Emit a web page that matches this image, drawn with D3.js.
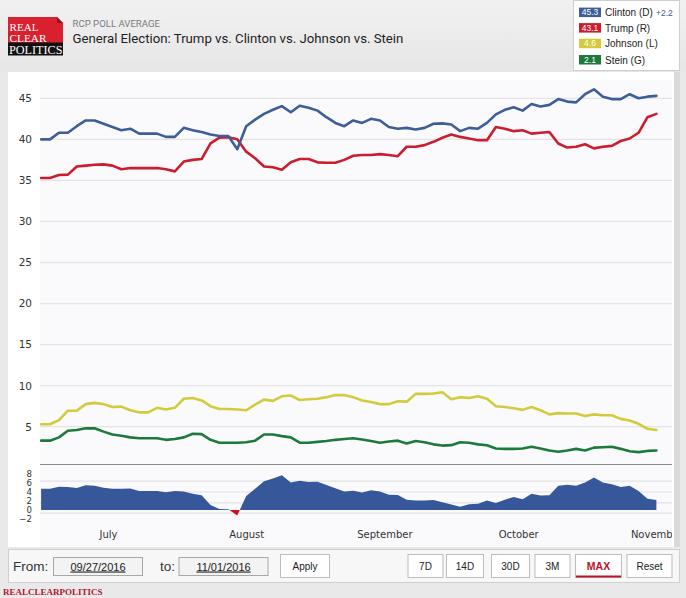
<!DOCTYPE html>
<html><head><meta charset="utf-8">
<script src="https://cdn.jsdelivr.net/npm/d3@7/dist/d3.min.js"></script>
<style>body{margin:0;background:#e9e9e9;overflow:hidden}svg{display:block}</style>
</head><body>
<svg id="c" width="686" height="598"></svg>
<script>
// ---------- DATA ----------
const dates = [
 "2016-06-16","2016-06-18","2016-06-20","2016-06-22","2016-06-24","2016-06-26","2016-06-28","2016-06-30",
 "2016-07-02","2016-07-04","2016-07-06","2016-07-08","2016-07-10","2016-07-12","2016-07-14","2016-07-16",
 "2016-07-18","2016-07-20","2016-07-22","2016-07-24","2016-07-26","2016-07-28","2016-07-30",
 "2016-08-01","2016-08-03","2016-08-05","2016-08-07","2016-08-09","2016-08-11","2016-08-13","2016-08-15",
 "2016-08-17","2016-08-19","2016-08-21","2016-08-23","2016-08-25","2016-08-27","2016-08-29","2016-08-31",
 "2016-09-02","2016-09-04","2016-09-06","2016-09-08","2016-09-10","2016-09-12","2016-09-14","2016-09-16",
 "2016-09-18","2016-09-20","2016-09-22","2016-09-24","2016-09-26","2016-09-28","2016-09-30",
 "2016-10-02","2016-10-04","2016-10-06","2016-10-08","2016-10-10","2016-10-12","2016-10-14","2016-10-16",
 "2016-10-18","2016-10-20","2016-10-22","2016-10-24","2016-10-26","2016-10-28","2016-10-30","2016-11-01"];
const clinton = [
 40.0,40.0,40.8,40.8,41.6,42.3,42.3,41.9,
 41.5,41.1,41.3,40.7,40.7,40.7,40.3,40.3,
 41.4,41.1,40.9,40.6,40.4,40.4,38.8,
 41.6,42.4,43.1,43.6,44.05,43.3,44.1,43.85,
 43.5,42.7,42.0,41.6,42.3,42.0,42.5,42.3,
 41.5,41.3,41.4,41.2,41.4,41.9,41.95,41.8,
 41.0,41.4,41.3,42.0,43.05,43.6,43.9,
 43.5,44.3,44.0,44.2,44.9,44.6,44.5,45.5,
 46.1,45.2,44.9,44.9,45.5,45.0,45.2,45.3];
const trump = [
 35.3,35.3,35.65,35.7,36.7,36.8,36.9,36.95,
 36.8,36.35,36.5,36.5,36.5,36.5,36.35,36.1,
 37.3,37.5,37.6,39.5,40.2,40.25,40.0,
 38.5,37.7,36.7,36.6,36.3,37.2,37.6,37.6,
 37.2,37.15,37.15,37.5,38.0,38.1,38.1,38.2,
 38.1,37.95,39.1,39.1,39.3,39.7,40.2,40.6,
 40.3,40.1,39.9,39.9,41.5,41.3,41.0,
 41.1,40.7,40.8,40.9,39.5,39.0,39.1,39.4,
 38.9,39.1,39.2,39.8,40.1,40.8,42.7,43.1];
const johnson = [
 5.3,5.3,5.8,6.95,6.95,7.75,7.9,7.75,
 7.4,7.45,7.0,6.75,6.75,7.3,7.1,7.3,
 8.4,8.5,8.2,7.5,7.15,7.15,7.1,
 7.0,7.7,8.3,8.15,8.7,8.8,8.25,8.35,
 8.4,8.6,8.85,8.85,8.6,8.2,8.0,7.75,
 7.75,8.1,8.05,9.0,9.0,9.05,9.2,8.35,
 8.6,8.5,8.7,8.4,7.5,7.4,7.25,
 7.05,7.4,7.0,6.5,6.65,6.6,6.6,6.3,
 6.5,6.4,6.4,5.95,5.75,5.35,4.75,4.6];
const stein = [
 3.3,3.3,3.7,4.5,4.6,4.8,4.8,4.4,
 4.05,3.9,3.7,3.6,3.6,3.6,3.4,3.5,
 3.7,4.15,4.1,3.4,3.05,3.05,3.05,
 3.1,3.3,4.05,4.05,3.85,3.7,3.05,3.05,
 3.15,3.25,3.4,3.5,3.6,3.45,3.25,3.05,
 3.2,3.3,2.95,3.25,3.1,2.85,2.7,2.75,
 3.1,3.05,2.85,2.75,2.35,2.3,2.3,
 2.35,2.55,2.35,2.1,1.95,2.1,2.3,2.1,
 2.45,2.5,2.55,2.3,2.0,1.9,2.05,2.1];
const seriesNames = ["Clinton (D)","Trump (R)","Johnson (L)","Stein (G)"];
const seriesLatest = ["45.3","43.1","4.6","2.1"];
const leadChange = "+2.2";
const yTicks = [5,10,15,20,25,30,35,40,45];
const spreadTicks = [8,6,4,2,0,-2];
const spreadGrid = [6.4,4,1.6,-0.7];
const monthTicks = ["2016-07-01","2016-08-01","2016-09-01","2016-10-01","2016-11-01"];
const monthLabels = ["July","August","September","October","November"];
const fromDate = "09/27/2016", toDate = "11/01/2016";
const rangeButtons = ["7D","14D","30D","3M","MAX","Reset"];

// ---------- SETUP ----------
const colors = ["#3d5e98","#cc1d2e","#d3ca3c","#1e7a3c"];
const svg = d3.select("#c");
const parse = d3.timeParse("%Y-%m-%d");
const D = dates.map(parse);
const PL = 40, PR = 672, PT = 80, PB = 464, LB = 546;

const x = d3.scaleTime().domain([new Date(2016,5,16), new Date(2016,10,4,12)]).range([41.1, 672]);
const y = d3.scaleLinear().domain([0,45]).range([467.75, 98.3]);
const ys = d3.scaleLinear().domain([0,8]).range([510, 474]);

const defs = svg.append("defs");
const hg = defs.append("linearGradient").attr("id","hg").attr("x1",0).attr("y1",0).attr("x2",0).attr("y2",1);
hg.append("stop").attr("offset","0").attr("stop-color","#f1f1f1");
hg.append("stop").attr("offset","1").attr("stop-color","#e6e6e6");
defs.append("clipPath").attr("id","cpMain").append("rect").attr("x",PL).attr("y",PT).attr("width",PR-PL).attr("height",PB-PT);
defs.append("clipPath").attr("id","cpPos").append("rect").attr("x",PL).attr("y",PB).attr("width",PR-PL).attr("height",ys(0)-PB);
defs.append("clipPath").attr("id","cpNeg").append("rect").attr("x",PL).attr("y",ys(0)).attr("width",PR-PL).attr("height",LB-ys(0));
defs.append("clipPath").attr("id","cpAx").append("rect").attr("x",PL).attr("y",PB).attr("width",PR-PL).attr("height",LB-PB);

// background
svg.append("rect").attr("width",686).attr("height",598).attr("fill","#e9e9e9");
svg.append("rect").attr("width",686).attr("height",72).attr("fill","url(#hg)");

// ---------- HEADER ----------
const logo = svg.append("g");
logo.append("path").attr("d","M8,17 H57 L63,23 V43 H8 Z").attr("fill","#d8202e");
logo.append("path").attr("d","M57,17 L63,23 H57 Z").attr("fill","#a0101c");
logo.append("rect").attr("x",8).attr("y",42.5).attr("width",55).attr("height",13).attr("fill","#111");
const lf = "'Liberation Serif','DejaVu Serif',serif";
logo.append("text").attr("x",9.5).attr("y",30.5).text("REAL").attr("font-family",lf).attr("font-size",11).attr("fill","#fff").attr("textLength",29).attr("lengthAdjust","spacingAndGlyphs");
logo.append("text").attr("x",9.5).attr("y",41.5).text("CLEAR").attr("font-family",lf).attr("font-size",11).attr("fill","#fff").attr("textLength",37).attr("lengthAdjust","spacingAndGlyphs");
logo.append("text").attr("x",9).attr("y",54.3).text("POLITICS").attr("font-family",lf).attr("font-size",12).attr("fill","#fff").attr("textLength",53.5).attr("lengthAdjust","spacingAndGlyphs");

svg.append("text").attr("x",72.5).attr("y",26.7).text("RCP POLL AVERAGE")
  .attr("font-family","Roboto,'Liberation Sans',sans-serif").attr("font-size",9.6).attr("fill","#7a7a7a");
svg.append("text").attr("x",72.5).attr("y",42.6).text("General Election: Trump vs. Clinton vs. Johnson vs. Stein")
  .attr("font-family","Roboto,'Liberation Sans',sans-serif").attr("font-size",13.2).attr("fill","#222");

// ---------- LEGEND ----------
svg.append("rect").attr("x",573.5).attr("y",0.5).attr("width",106).attr("height",70).attr("fill","#fff").attr("stroke","#cfcfcf");
const legY = [12.2, 27.7, 43.3, 59.6];
seriesNames.forEach((n,i)=>{
  const g = svg.append("g");
  g.append("rect").attr("x",579).attr("y",legY[i]-4.6).attr("width",22).attr("height",9.5).attr("fill",colors[i]);
  g.append("text").attr("x",590).attr("y",legY[i]+3).attr("text-anchor","middle").text(seriesLatest[i])
    .attr("font-family","'Liberation Sans',Arial,sans-serif").attr("font-size",8.5).attr("fill","#fff");
  g.append("text").attr("x",605).attr("y",legY[i]+4).text(n)
    .attr("font-family","'Liberation Sans',Arial,sans-serif").attr("font-size",10).attr("fill","#222");
});
svg.append("text").attr("x",656).attr("y",legY[0]+3.5).text(leadChange)
  .attr("font-family","'Liberation Sans',Arial,sans-serif").attr("font-size",8.5).attr("fill","#3d5e98");

// ---------- CHART PANEL ----------
svg.append("rect").attr("x",8).attr("y",72).attr("width",666).attr("height",475).attr("fill","#fff");
svg.append("rect").attr("x",674).attr("y",72).attr("width",6).attr("height",475).attr("fill","#dadada");
svg.append("rect").attr("x",PL).attr("y",PT).attr("width",PR-PL).attr("height",LB-PT).attr("fill","#fafafc");

const tf = "'DejaVu Sans',Verdana,sans-serif";
// main grid
const gGrid = svg.append("g");
yTicks.forEach(v=>{
  gGrid.append("line").attr("x1",PL).attr("x2",PR).attr("y1",y(v)).attr("y2",y(v)).attr("stroke","#e4e4e4").attr("stroke-width",1.3);
});
// y axis labels via d3 axis
const yAx = svg.append("g").attr("transform",`translate(${PL},0)`)
  .call(d3.axisLeft(y).tickValues(yTicks).tickSize(0).tickPadding(8));
yAx.select(".domain").remove();
yAx.selectAll("text").attr("font-family",tf).attr("font-size",10.5).attr("fill","#333");

// lines
const line = d3.line().x((d,i)=>x(D[i])).y(d=>y(d));
const gLines = svg.append("g").attr("clip-path","url(#cpMain)");
[stein, johnson, trump, clinton].forEach((s,k)=>{
  const ci = [3,2,1,0][k];
  gLines.append("path").datum(s).attr("d",line).attr("fill","none").attr("stroke",colors[ci])
    .attr("stroke-width",2.6).attr("stroke-linejoin","round").attr("stroke-linecap","round");
});

// ---------- SPREAD PANEL ----------
spreadGrid.forEach(v=>{
  svg.append("line").attr("x1",PL).attr("x2",PR).attr("y1",ys(v)).attr("y2",ys(v)).attr("stroke","#e2e2e2").attr("stroke-width",1.2);
});
const spread = clinton.map((c,i)=>c - trump[i]);
const area = d3.area().x((d,i)=>x(D[i])).y0(ys(0)).y1(d=>ys(d));
svg.append("path").datum(spread).attr("d",area).attr("fill","#36589a").attr("clip-path","url(#cpPos)");
svg.append("path").datum(spread).attr("d",area).attr("fill","#d0101e").attr("clip-path","url(#cpNeg)");
svg.append("line").attr("x1",PL).attr("x2",PR).attr("y1",PB+0.5).attr("y2",PB+0.5).attr("stroke","#8a8a8a").attr("stroke-width",1);

const sAx = svg.append("g").attr("transform",`translate(${PL},0)`)
  .call(d3.axisLeft(ys).tickValues(spreadTicks).tickSize(0).tickPadding(8).tickFormat(d3.format("d")));
sAx.select(".domain").remove();
sAx.selectAll("text").attr("font-family",tf).attr("font-size",8.6).attr("fill","#333");

// month axis
const xAxWrap = svg.append("g").attr("clip-path","url(#cpAx)");
const xAx = xAxWrap.append("g").attr("transform",`translate(0,${526})`)
  .call(d3.axisBottom(x).tickValues(monthTicks.map(parse)).tickSize(0).tickPadding(8)
    .tickFormat((d,i)=>monthLabels[i]));
xAx.select(".domain").remove();
xAx.selectAll("text").attr("font-family",tf).attr("font-size",10).attr("fill","#333").attr("dy","0.35em");

// ---------- CONTROLS ----------
svg.append("rect").attr("x",8.5).attr("y",549.5).attr("width",671).attr("height",33).attr("fill","#f7f7f7").attr("stroke","#cfcfcf");
const cf = "'Liberation Sans',Arial,sans-serif";
svg.append("text").attr("x",13).attr("y",571).text("From:").attr("font-family",cf).attr("font-size",13.5).attr("fill","#333");
svg.append("text").attr("x",160).attr("y",571).text("to:").attr("font-family",cf).attr("font-size",13.5).attr("fill","#333");
[[53,fromDate],[178.5,toDate]].forEach(([bx,t])=>{
  svg.append("rect").attr("x",bx+0.5).attr("y",557.5).attr("width",89).attr("height",18).attr("fill","#f3f3f3").attr("stroke","#a8a8a8");
  svg.append("text").attr("x",bx+45).attr("y",570.5).attr("text-anchor","middle").text(t)
    .attr("font-family",cf).attr("font-size",11).attr("fill","#222").attr("text-decoration","underline");
});
const btn = (bx,w,t,red)=>{
  svg.append("rect").attr("x",bx+0.5).attr("y",554.5).attr("width",w).attr("height",23).attr("fill","#fff").attr("stroke","#bdbdbd");
  if(red) svg.append("line").attr("x1",bx+1).attr("x2",bx+w).attr("y1",576.5).attr("y2",576.5).attr("stroke","#c0102a").attr("stroke-width",2);
  svg.append("text").attr("x",bx+w/2+0.5).attr("y",570).attr("text-anchor","middle").text(t)
    .attr("font-family",cf).attr("font-size",red?10.5:10).attr("font-weight",red?"bold":"normal").attr("fill",red?"#c0102a":"#222");
};
btn(280,49,"Apply",false);
const bxs = [[407.5,35],[446,37],[491,38],[534.5,35],[575,46],[626.5,45]];
rangeButtons.forEach((t,i)=>btn(bxs[i][0],bxs[i][1],t,t==="MAX"));

svg.append("text").attr("x",3).attr("y",594.5).text("REALCLEARPOLITICS")
  .attr("font-family",lf).attr("font-weight","bold").attr("font-size",9).attr("fill","#b3152f");
</script>
</body></html>
